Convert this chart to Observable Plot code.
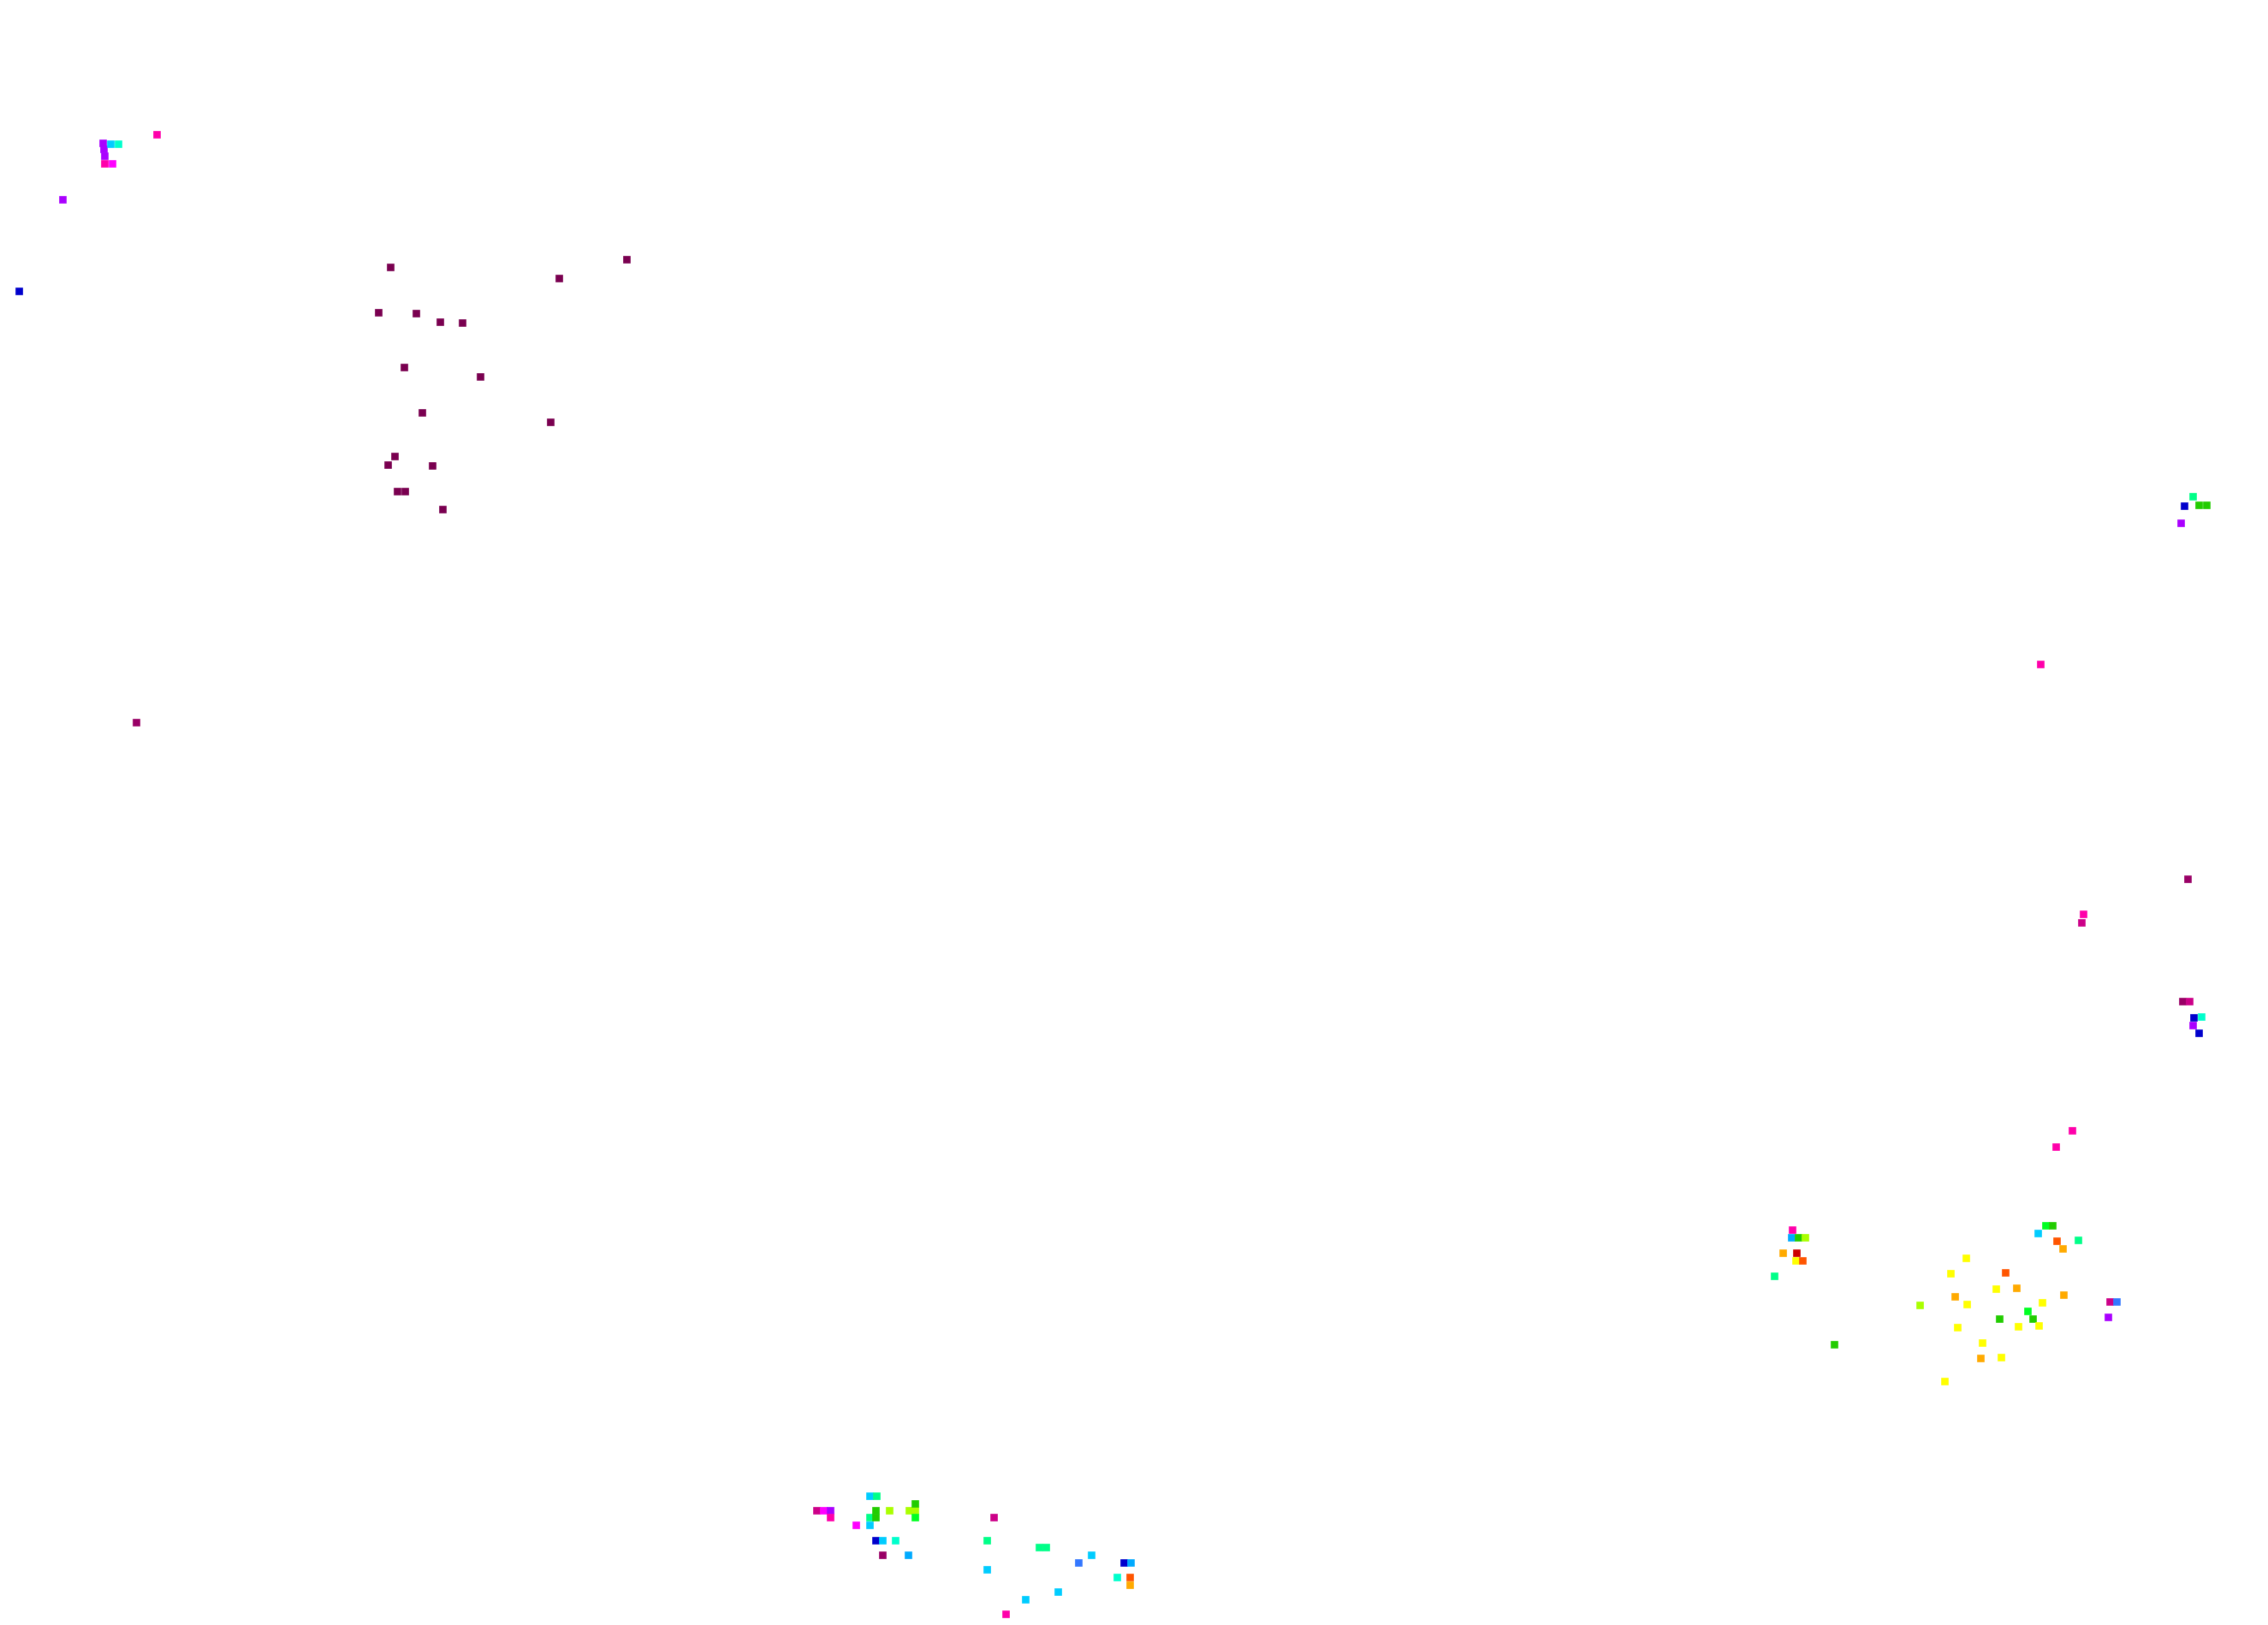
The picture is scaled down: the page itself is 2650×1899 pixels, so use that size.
<!DOCTYPE html>
<html>
<head>
<meta charset="utf-8">
<script src="https://cdn.jsdelivr.net/npm/d3@7"></script>
<script src="https://cdn.jsdelivr.net/npm/@observablehq/plot@0.6"></script>
<style>
  html, body { margin: 0; padding: 0; background: #ffffff; }
  #chart svg { display: block; }
</style>
</head>
<body>
<div id="chart"></div>
<script>
// Category names (hue groups)
const groups = ["c0","c1","c2","c3","c4","c5","c6","c7","c8","c9","c10","c11","c12","c13","c14","c15","c16","c17","c18"];
const groupColors = ["#7a0050","#990066","#cc0088","#ff00aa","#ff00ff","#aa00ff","#0000cc","#3377ff","#00aaff","#00ccff","#00ffcc","#00ff88","#00ff22","#22cc00","#aaff00","#ffff00","#ffaa00","#ff5500","#cc0000"];

// Point values
const xs = [
  183,120,121,122,122,131,129,138,73,22,
  456,732,653,442,486,514,540,472,561,493,643,461,453,505,464,473,517,
  159,
  2562,2552,2569,2578,2548,2384,2556,2434,2432,2550,2558,2563,2572,2562,2569,2421,2402,
  2094,2093,2101,2109,2083,2099,2098,2106,2073,2143,
  2390,2398,2381,2403,2410,2428,2297,2279,2343,2332,2356,2284,2298,2243,2411,2386,2465,2473,2463,2369,2336,2375,2382,2358,2287,2316,2314,2338,2272,
  954,962,970,970,1000,1016,1016,1016,1024,1023,1023,1039,1062,1069,1069,1069,1161,1023,1031,1046,1153,1031,1061,1153,1214,1222,1275,1260,1313,1321,1305,1320,1320,1236,1198,1175
];
const ys = [
  157,167,174,182,191,191,168,168,233,340,
  312,303,325,365,366,376,377,429,440,482,493,533,543,544,574,574,595,
  844,
  580,591,590,590,611,776,1027,1068,1078,1170,1170,1189,1188,1198,1207,1321,1340,
  1437,1446,1446,1446,1464,1464,1473,1473,1491,1571,
  1432,1432,1441,1450,1459,1449,1470,1488,1487,1506,1505,1515,1524,1525,1513,1522,1521,1521,1539,1532,1541,1541,1549,1550,1551,1569,1587,1586,1614,
  1765,1765,1765,1773,1782,1782,1773,1748,1748,1765,1773,1765,1765,1765,1757,1773,1773,1800,1800,1800,1800,1817,1817,1834,1808,1808,1817,1826,1826,1826,1843,1843,1852,1860,1869,1886
];
const cats = [
  "c3","c5","c5","c5","c3","c4","c9","c10","c5","c6",
  "c0","c0","c0","c0","c0","c0","c0","c0","c0","c0","c0","c0","c0","c0","c0","c0","c0",
  "c1",
  "c11","c6","c13","c13","c5","c3","c1","c3","c2","c1","c2","c6","c10","c5","c6","c3","c3",
  "c3","c8","c13","c14","c16","c18","c15","c17","c11","c13",
  "c12","c13","c9","c17","c16","c11","c15","c15","c17","c15","c16","c16","c15","c14","c16","c15","c2","c7","c5","c12","c13","c13","c15","c15","c15","c15","c16","c15","c15",
  "c2","c4","c5","c3","c4","c9","c11","c9","c11","c13","c13","c14","c14","c14","c13","c12","c2","c6","c9","c10","c11","c1","c8","c9","c11","c11","c9","c7","c6","c8","c10","c17","c16","c9","c9","c3"
];

const data = xs.map((x, i) => ({x, y: ys[i], g: cats[i]}));

const W = 2650, H = 1899;
const chart = Plot.plot({
  width: W,
  height: H,
  margin: 0,
  style: {background: "#ffffff"},
  x: {domain: [0, W], range: [0, W], axis: null},
  y: {domain: [0, H], range: [0, H], axis: null},
  color: {type: "ordinal", domain: groups, range: groupColors},
  marks: [
    Plot.dot(data, {x: "x", y: "y", fill: "g", symbol: "square", r: 4.9, stroke: "none"})
  ]
});
document.getElementById("chart").appendChild(chart);
</script>
</body>
</html>
